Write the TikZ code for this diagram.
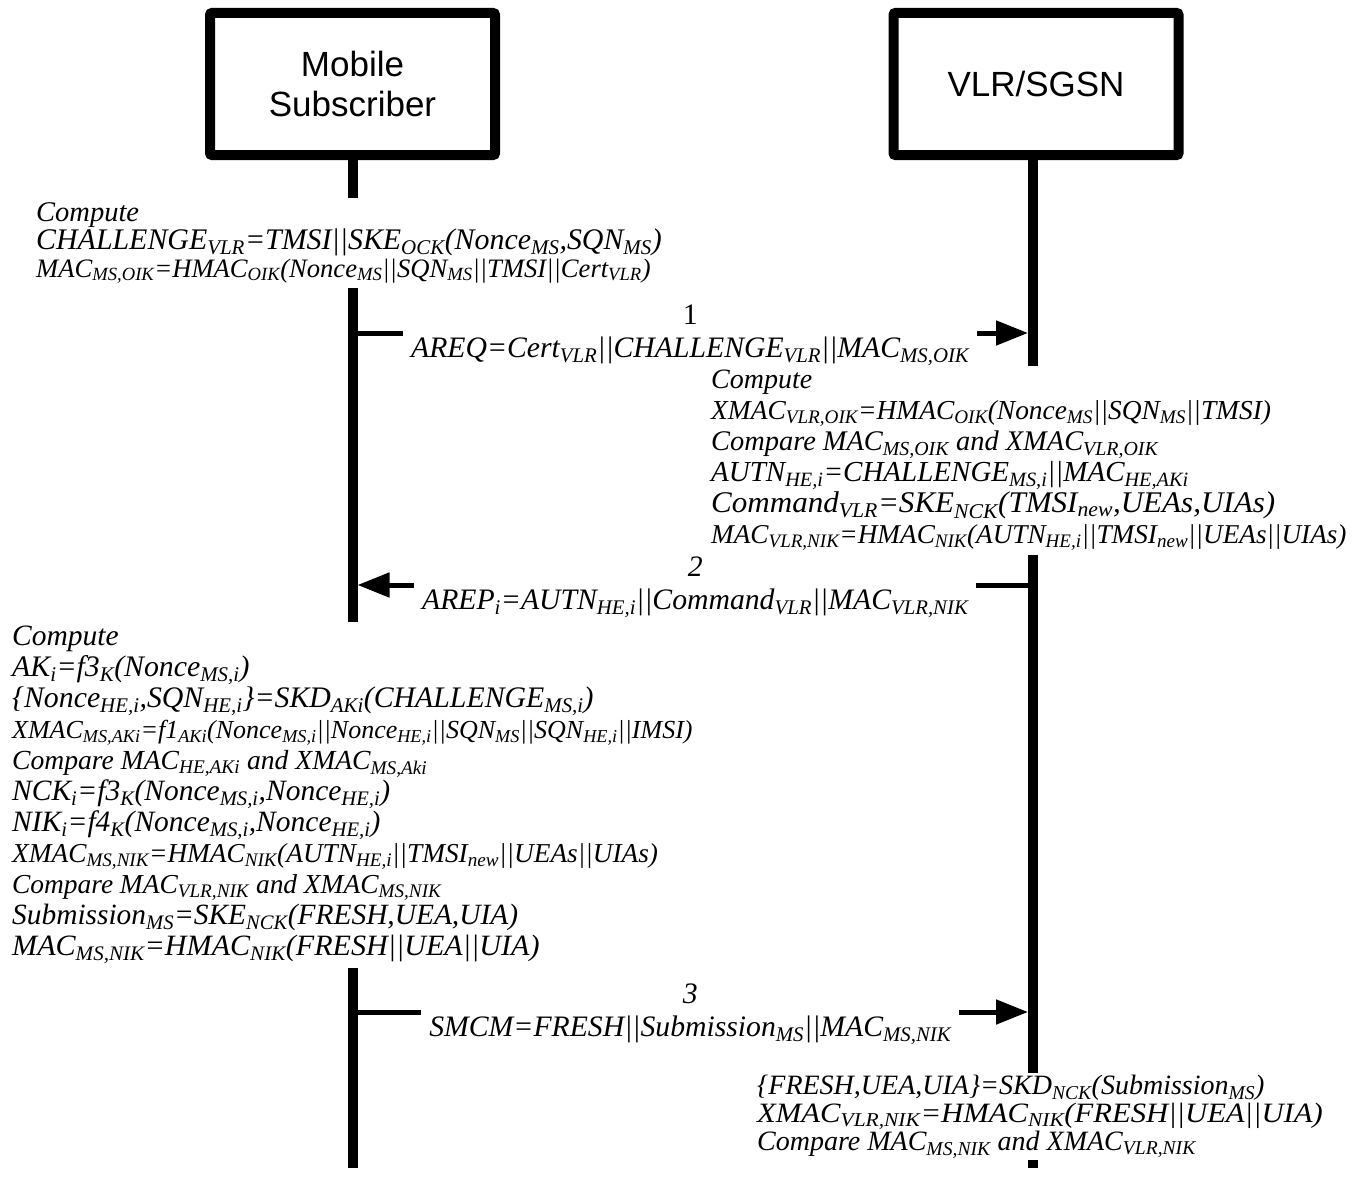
\documentclass[tikz,border=0pt]{standalone}
\usepackage{graphicx}
\usepackage{fontspec}
\setmainfont{Liberation Serif}
\newfontfamily\boxfont{Liberation Sans}
\usetikzlibrary{arrows.meta}
\newcommand{\dn}[1]{\textsubscript{#1}}
\newcommand{\ls}[3]{{\fontsize{#1}{#2}\selectfont #3}}
\begin{document}
\begin{tikzpicture}[x=1pt,y=-1pt,
  actor/.style={draw, line width=10pt, rounded corners=2pt, minimum width=285pt, minimum height=142pt,
    font=\boxfont\fontsize{35}{40}\selectfont, align=center, fill=white, inner sep=0pt},
  life/.style={line width=10pt},
  msg/.style={line width=5pt, -{Triangle[length=32pt,width=24pt]}},
  lbl/.style={fill=white, align=center, inner xsep=8pt, inner ysep=0pt, yshift=-2pt,
    font=\itshape\fontsize{29.7}{33}\selectfont},
  calc/.style={fill=white, align=left, anchor=north west, inner sep=4pt,
    font=\itshape\fontsize{28}{28}\selectfont}]
\useasboundingbox (0,0) rectangle (1364,1199);
% actors
\node[actor] (ms) at (352.5,84) {Mobile\\Subscriber};
\node[actor] (vlr) at (1036,84) {VLR/SGSN};
\coordinate (msend) at (352.5,1168);
\coordinate (vlrend) at (1033,1168);
\draw[life] (ms.south) -- (msend);
\draw[life] ([xshift=-3pt]vlr.south) -- (vlrend);
% computation blocks
\node[calc, font=\itshape\fontsize{28}{28}\selectfont] (c1) at (32,198) {\ls{28.5}{28}{Compute}\\
\ls{29.9}{28}{CHALLENGE\dn{VLR}=TMSI||SKE\dn{OCK}(Nonce\dn{MS},SQN\dn{MS})}\\
\ls{26.6}{28}{MAC\dn{MS,OIK}=HMAC\dn{OIK}(Nonce\dn{MS}||SQN\dn{MS}||TMSI||Cert\dn{VLR})}};
\node[calc, font=\itshape\fontsize{28}{31}\selectfont] (c2) at (707,366) {\ls{28}{31}{Compute}\\
\ls{27.4}{31}{XMAC\dn{VLR,OIK}=HMAC\dn{OIK}(Nonce\dn{MS}||SQN\dn{MS}||TMSI)}\\
\ls{28.4}{31}{Compare MAC\dn{MS,OIK} and XMAC\dn{VLR,OIK}}\\
\ls{29}{31}{AUTN\dn{HE,i}=CHALLENGE\dn{MS,i}||MAC\dn{HE,AKi}}\\
\ls{30}{31}{\scalebox{1.035}[1]{Command\dn{VLR}=SKE\dn{NCK}(TMSI\dn{new},UEAs,UIAs)}}\\
\ls{27.2}{31}{MAC\dn{VLR,NIK}=HMAC\dn{NIK}(AUTN\dn{HE,i}||TMSI\dn{new}||UEAs||UIAs)}};
\node[calc, font=\itshape\fontsize{29}{31}\selectfont] (c3) at (8,622) {\ls{29.5}{31}{Compute}\\
\ls{29.8}{31}{AK\dn{i}=f3\dn{K}(Nonce\dn{MS,i})}\\
\ls{29.8}{31}{\{Nonce\dn{HE,i},SQN\dn{HE,i}\}=SKD\dn{AKi}(CHALLENGE\dn{MS,i})}\\
\ls{26}{31}{XMAC\dn{MS,AKi}=f1\dn{AKi}(Nonce\dn{MS,i}||Nonce\dn{HE,i}||SQN\dn{MS}||SQN\dn{HE,i}||IMSI)}\\
\ls{27.6}{31}{Compare MAC\dn{HE,AKi} and XMAC\dn{MS,Aki}}\\
\ls{29.5}{31}{NCK\dn{i}=f3\dn{K}(Nonce\dn{MS,i},Nonce\dn{HE,i})}\\
\ls{29.5}{31}{NIK\dn{i}=f4\dn{K}(Nonce\dn{MS,i},Nonce\dn{HE,i})}\\
\ls{27.3}{31}{XMAC\dn{MS,NIK}=HMAC\dn{NIK}(AUTN\dn{HE,i}||TMSI\dn{new}||UEAs||UIAs)}\\
\ls{27.4}{31}{Compare MAC\dn{VLR,NIK} and XMAC\dn{MS,NIK}}\\
\ls{29.4}{31}{Submission\dn{MS}=SKE\dn{NCK}(FRESH,UEA,UIA)}\\
\ls{29.5}{31}{\scalebox{1.02}[1]{MAC\dn{MS,NIK}=HMAC\dn{NIK}(FRESH||UEA||UIA)}}};
\node[calc, inner ysep=2pt, font=\itshape\fontsize{28}{28}\selectfont] (c4) at (753,1073) {\ls{28}{28}{\{FRESH,UEA,UIA\}=SKD\dn{NCK}(Submission\dn{MS})}\\
\ls{28}{28}{\scalebox{1.095}[1]{XMAC\dn{VLR,NIK}=HMAC\dn{NIK}(FRESH||UEA||UIA)}}\\
\ls{28}{28}{Compare MAC\dn{MS,NIK} and XMAC\dn{VLR,NIK}}};
% messages
\coordinate (m1a) at (352.5,333);
\coordinate (m1b) at (1028,333);
\draw[msg] (m1a) -- node[lbl] (l1) {\upshape 1\\AREQ=Cert\dn{VLR}||CHALLENGE\dn{VLR}||MAC\dn{MS,OIK}} (m1b);
\coordinate (m2a) at (357.5,585);
\coordinate (m2b) at (1033,585);
\draw[msg] (m2b) -- node[lbl] (l2) {2\\AREP\dn{i}=AUTN\dn{HE,i}||Command\dn{VLR}||MAC\dn{VLR,NIK}} (m2a);
\coordinate (m3a) at (352.5,1012);
\coordinate (m3b) at (1028,1012);
\draw[msg] (m3a) -- node[lbl] (l3) {3\\SMCM=FRESH||Submission\dn{MS}||MAC\dn{MS,NIK}} (m3b);
\end{tikzpicture}
\end{document}
